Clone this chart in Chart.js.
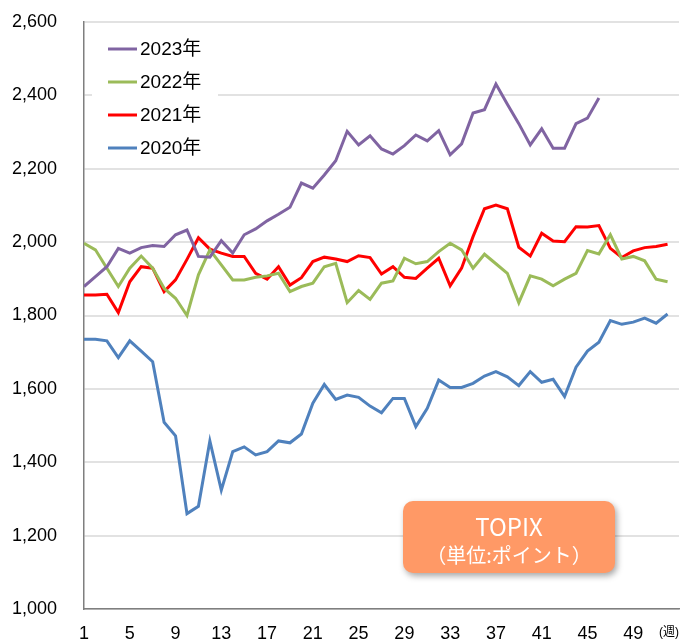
<!DOCTYPE html>
<html>
<head>
<meta charset="utf-8">
<script src="https://cdn.jsdelivr.net/npm/chart.js@4/dist/chart.umd.min.js"></script>
<style>
  body { margin: 0; background: #fff; }
  canvas { display: block; }
</style>
</head>
<body>
<canvas id="topix" width="684" height="642"></canvas>
<script>
// 週番号と目盛り
const semanas = Array.from({ length: 52 }, (_, i) => i + 1);
const ticksX = [1, 5, 9, 13, 17, 21, 25, 29, 33, 37, 41, 45, 49];

// 各年のTOPIX（週末値、グラフから読み取り）
const datos2023 = [1879, 1906, 1933, 1983, 1970, 1985, 1991, 1988, 2020, 2033,
  1961, 1959, 2004, 1970, 2020, 2036, 2058, 2076, 2095, 2161,
  2147, 2183, 2222, 2302, 2265, 2290, 2254, 2240, 2263, 2292,
  2276, 2304, 2238, 2268, 2352, 2361, 2431, 2376, 2323, 2265,
  2309, 2256, 2256, 2323, 2338, 2393];
const datos2022 = [1997, 1979, 1929, 1879, 1929, 1962, 1929, 1874, 1847, 1800,
  1911, 1979, 1938, 1897, 1897, 1904, 1908, 1915, 1865, 1879,
  1888, 1933, 1942, 1835, 1868, 1844, 1888, 1894, 1956, 1941,
  1947, 1974, 1997, 1979, 1929, 1967, 1941, 1915, 1835, 1908,
  1899, 1881, 1899, 1915, 1977, 1968, 2020, 1954, 1961, 1949,
  1899, 1892];
const datos2021 = [1856, 1856, 1858, 1808, 1892, 1933, 1929, 1865, 1897, 1953,
  2012, 1981, 1970, 1961, 1961, 1915, 1899, 1933, 1883, 1903,
  1947, 1959, 1954, 1947, 1963, 1958, 1913, 1933, 1904, 1901,
  1929, 1956, 1881, 1929, 2015, 2091, 2101, 2091, 1986, 1962,
  2024, 2003, 2001, 2042, 2041, 2045, 1983, 1958, 1976, 1985,
  1988, 1994];
const datos2020 = [1735, 1735, 1731, 1685, 1731, 1703, 1674, 1509, 1472, 1260,
  1280, 1458, 1324, 1429, 1442, 1420, 1429, 1458, 1453, 1477,
  1561, 1612, 1571, 1583, 1577, 1553, 1535, 1574, 1574, 1497,
  1547, 1624, 1604, 1604, 1615, 1635, 1647, 1633, 1609, 1647,
  1618, 1626, 1579, 1659, 1703, 1727, 1786, 1776, 1782, 1793,
  1779, 1804];

const etiquetas = ["2023年", "2022年", "2021年", "2020年"];
const colores = ["#8064A2", "#9BBB59", "#FF0000", "#4F81BD"];
const series = [datos2023, datos2022, datos2021, datos2020];

const fuente = '"Liberation Sans", Arial, "Noto Sans CJK JP", sans-serif';

// leyenda dentro del área del gráfico + cuadro TOPIX
const extras = {
  id: "extras",
  afterDraw(chart) {
    const ctx = chart.ctx;
    ctx.save();
    // fondo blanco de la leyenda
    ctx.fillStyle = "#fff";
    ctx.fillRect(92, 28, 126, 136);
    ctx.textBaseline = "middle";
    ctx.font = "19px " + fuente;
    chart.data.datasets.forEach((ds, i) => {
      const y = 49 + i * 33;
      ctx.strokeStyle = ds.borderColor;
      ctx.lineWidth = 3;
      ctx.beginPath();
      ctx.moveTo(108, y);
      ctx.lineTo(137, y);
      ctx.stroke();
      ctx.fillStyle = "#000";
      ctx.fillText(ds.label, 140, y + 1);
    });

    // unidad del eje x
    ctx.font = "12px " + fuente;
    ctx.fillStyle = "#000";
    ctx.fillText("(週)", 659, 633);

    // cuadro naranja
    ctx.shadowColor = "rgba(0,0,0,0.35)";
    ctx.shadowBlur = 6;
    ctx.shadowOffsetX = 2;
    ctx.shadowOffsetY = 3;
    ctx.fillStyle = "#FF9966";
    ctx.beginPath();
    ctx.roundRect(403, 501, 212, 72, 10);
    ctx.fill();
    ctx.shadowColor = "transparent";
    ctx.fillStyle = "#fff";
    ctx.textAlign = "center";
    ctx.font = '24px "Noto Sans CJK JP", sans-serif';
    ctx.fillText("TOPIX", 509, 527);
    ctx.font = '20px "Noto Sans CJK JP", sans-serif';
    ctx.fillText("（単位:ポイント）", 509, 555);
    ctx.restore();
  }
};

new Chart(document.getElementById("topix"), {
  type: "line",
  data: {
    datasets: series.map((d, i) => ({
      label: etiquetas[i],
      data: d.map((v, j) => ({ x: semanas[j], y: v })),
      borderColor: colores[i],
      backgroundColor: colores[i],
      borderWidth: 3,
      pointRadius: 0,
      tension: 0,
      fill: false
    }))
  },
  options: {
    responsive: false,
    animation: false,
    layout: { padding: { top: 22, right: 5, left: 0, bottom: 0 } },
    plugins: { legend: { display: false }, tooltip: { enabled: false } },
    scales: {
      x: {
        type: "linear",
        min: 1,
        max: 53,
        afterBuildTicks: (s) => { s.ticks = ticksX.map(v => ({ value: v })); },
        afterFit: (s) => { s.height = 33; },
        grid: { display: false, drawTicks: false },
        border: { color: "#7f7f7f", width: 1.5 },
        ticks: {
          padding: 14,
          color: "#000",
          font: { family: fuente, size: 18 },
          maxRotation: 0,
          autoSkip: false
        }
      },
      y: {
        min: 1000,
        max: 2600,
        afterFit: (s) => { s.width = 84; s.paddingTop = 10; s.paddingBottom = 10; },
        grid: { color: "#E2E2E2", lineWidth: 2, drawTicks: false },
        border: { color: "#7f7f7f", width: 1.5 },
        ticks: {
          stepSize: 200,
          padding: 27,
          color: "#000",
          font: { family: fuente, size: 18 },
          callback: (v) => v.toLocaleString("en-US")
        }
      }
    }
  },
  plugins: [extras]
});
</script>
</body>
</html>
